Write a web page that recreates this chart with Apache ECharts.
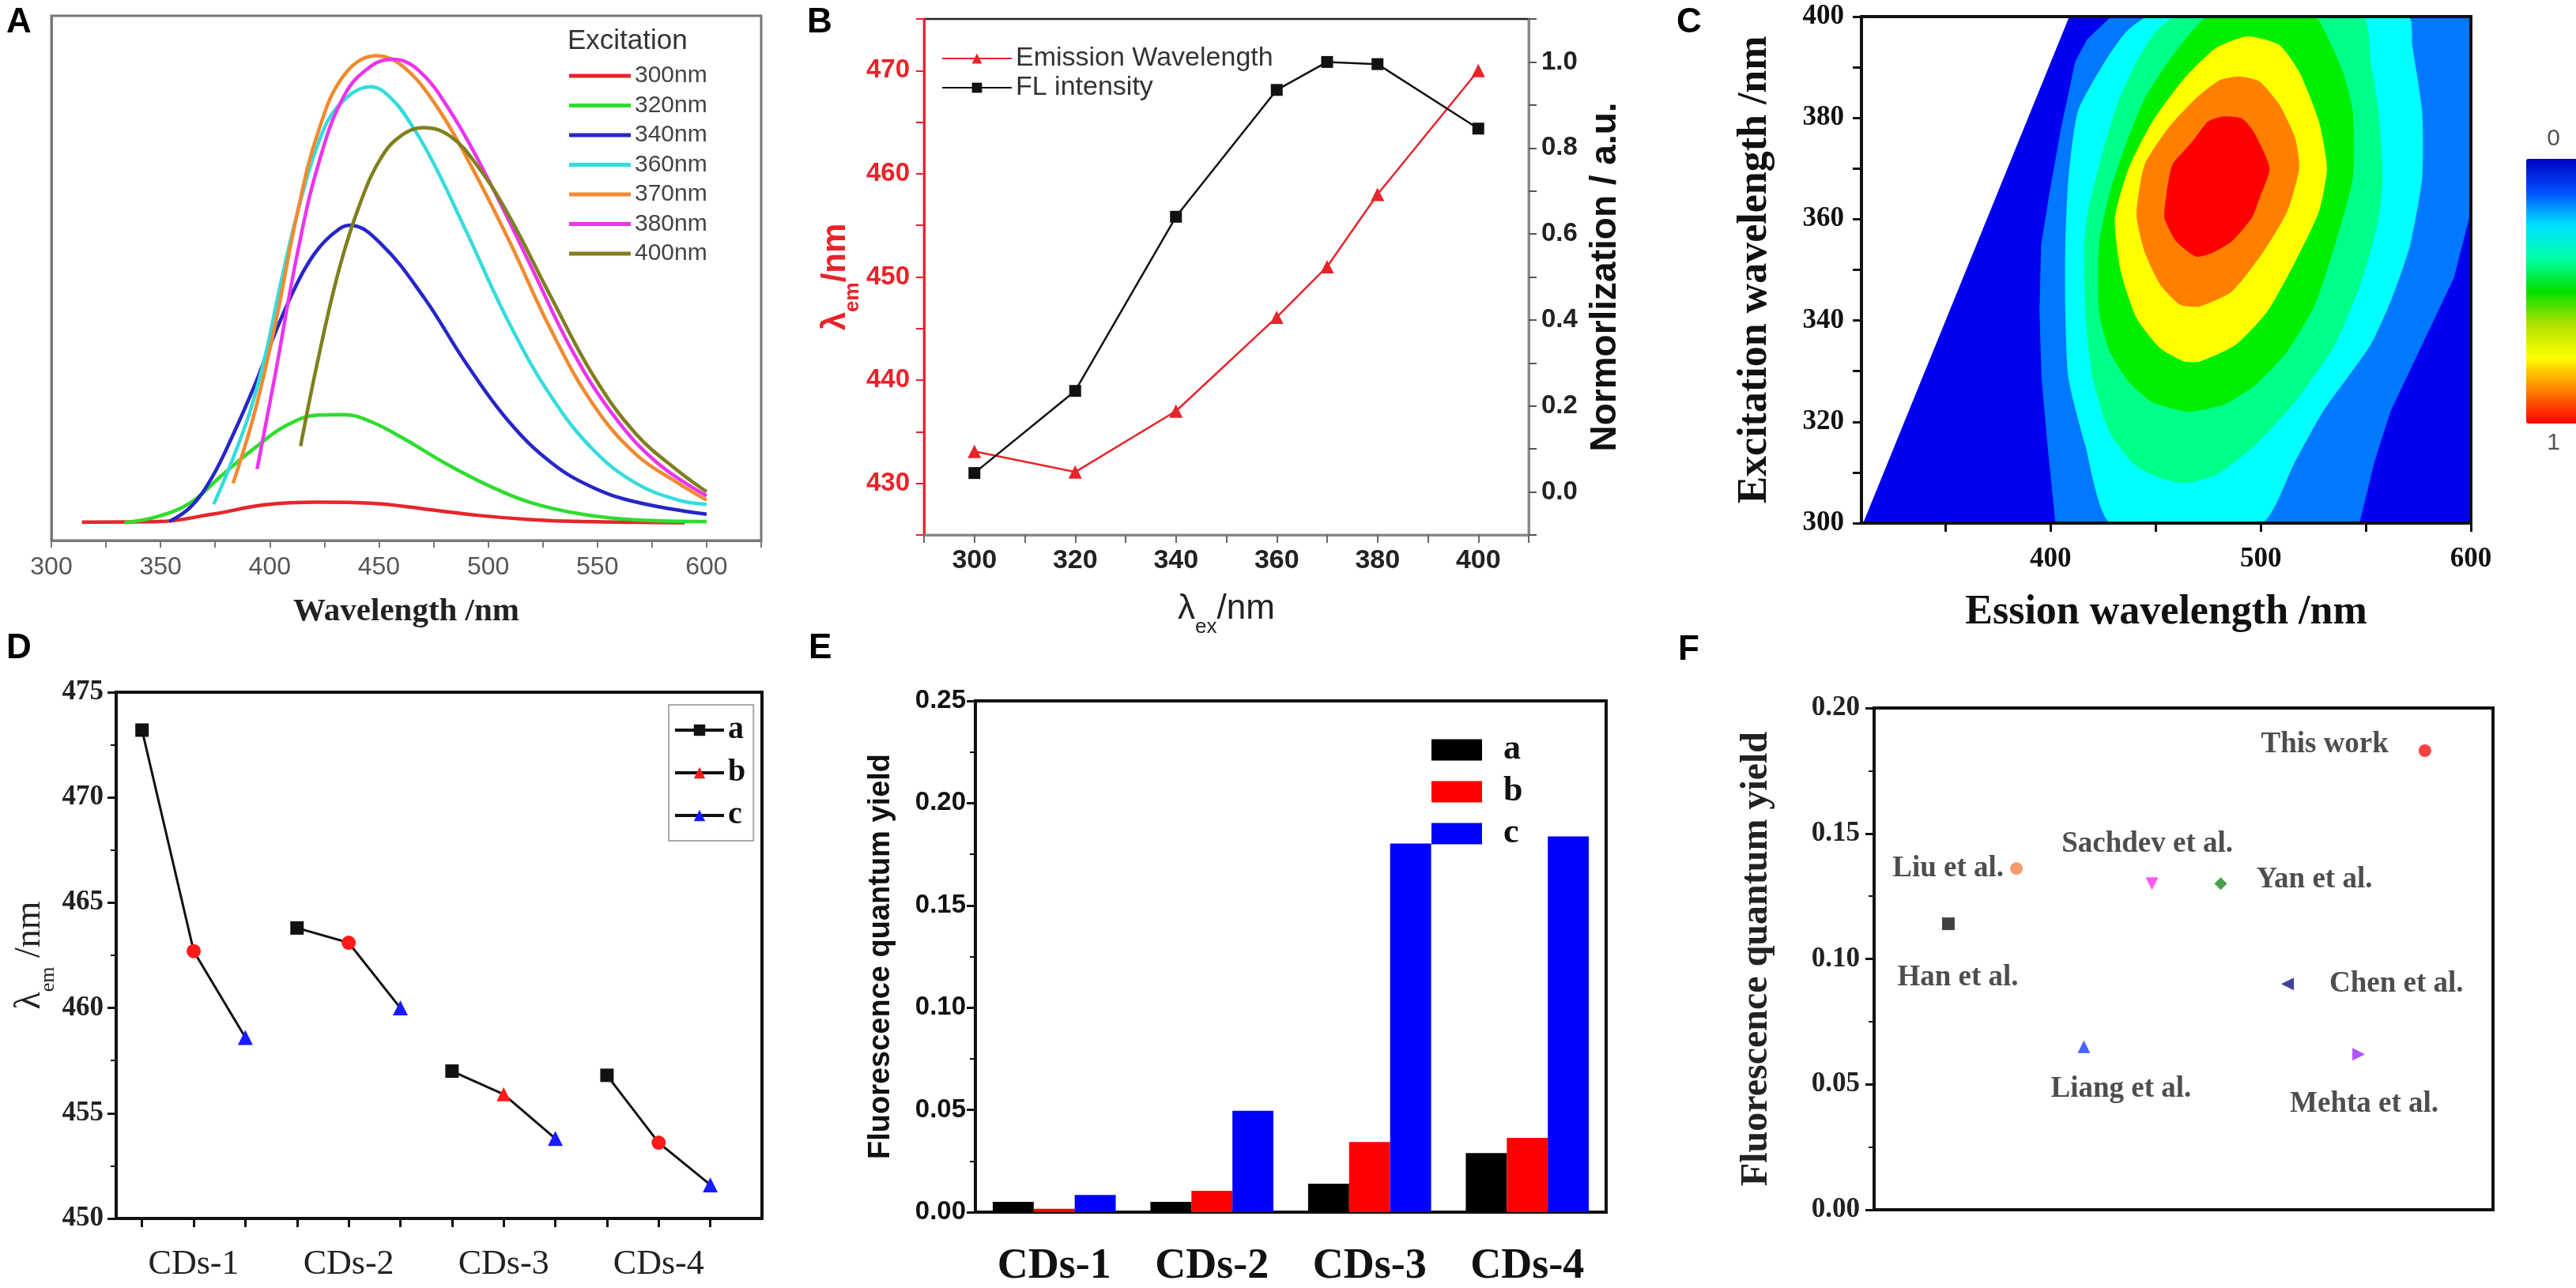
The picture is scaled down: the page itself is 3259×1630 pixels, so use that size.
<!DOCTYPE html>
<html><head><meta charset="utf-8">
<script src="https://cdn.jsdelivr.net/npm/echarts@6/dist/echarts.min.js"></script>
<style>html,body{margin:0;padding:0;background:#fff}#c{width:3259px;height:1630px}</style>
</head><body><div id="c"></div>
<script>
// ---------- Panel A: emission spectra [wavelength nm, intensity a.u.] ----------
const specNames = ['300nm','320nm','340nm','360nm','370nm','380nm','400nm'];
const spec300 = [[314,3.5],[349,3.6],[373.5,5.0],[398,6.8],[422,7.3],[446,7.1],[471,6.0],[495,4.8],[519,4.0],[543,3.6],[590,3.4]];
const spec320 = [[333.5,3.4],[349,4.6],[364,7.3],[378,12.4],[393,17.6],[407.5,21.9],[422,23.9],[434,24.0],[446,22.7],[461,19.5],[480,14.8],[500,10.5],[519,7.3],[543,5.0],[568,3.9],[600,3.6]];
const spec340 = [[354,3.6],[364,6.5],[373.5,12],[383,20],[393,29.5],[400,37],[407.5,44.5],[415,51],[422,55.5],[430,58.8],[436.6,60.1],[451,56.5],[470.6,46.3],[490,33.7],[509.4,22.7],[529,14.8],[548,10.1],[568,7.3],[600,5.0]];
const spec360 = [[374.3,6.9],[380.8,13.2],[390.5,24],[397.8,35],[405,49],[412.4,62],[422,75.5],[431.8,83],[446.3,86.5],[456,84.1],[465.8,78.6],[475.5,71.5],[490,58.9],[509.4,41.6],[528.9,27.4],[548.3,17.2],[567.7,10.9],[587.1,7.7],[600,6.9]];
const spec370 = [[383.2,10.9],[393,24.3],[402.7,41.6],[412.4,62],[422.1,77.8],[434.2,88.8],[448.8,92.4],[460.9,90.4],[475.5,83.3],[490,73.1],[509.4,57.3],[528.9,40],[548.3,25.8],[567.7,16.4],[587.1,10.9],[600,7.7]];
const spec380 = [[394.2,13.6],[402.7,32.1],[412.4,54.2],[422.1,71.5],[434.2,84.9],[446.3,90.4],[456.1,91.7],[468.2,89.6],[482.8,81.7],[499.7,69.1],[519.2,52.6],[538.6,36.1],[558,23.5],[577.4,14.8],[600,8.5]];
const spec400 = [[414.1,18],[422.1,34.5],[431.8,51.8],[441.5,64.4],[451.2,73.1],[460.9,77.4],[470.6,78.7],[482.8,77],[494.9,71.5],[509.4,62],[528.9,46.3],[548.3,31.3],[567.7,20.3],[587.1,13.2],[600,9.3]];
const specData = [spec300,spec320,spec340,spec360,spec370,spec380,spec400];
const specColors = ['#e5262b','#2fdc2f','#2626c8','#35dcdc','#f08a30','#ec34ec','#7f7f1e'];

// ---------- Panel B ----------
const exWave = [300,320,340,360,370,380,400];
const emWave = [433.1,431.1,437,446.1,451,458,470];
const flInt  = [0.044,0.235,0.64,0.935,1.0,0.995,0.845];

// ---------- Panel C: contour level boundaries [emission nm, excitation nm] ----------
const lvl1 = [[310.8,300],[408.9,400],[600,400],[600,300]];
const lvl2 = [[402.3,300],[398.5,315.5],[395.7,328.6],[394.7,341.8],[395.5,354.9],[399.4,365],[405,378],[411.7,391.1],[417.4,395.5],[428.7,400],[600,400],[600,361.5],[591.9,348.4],[576.8,335.2],[561.7,322],[554.2,312.2],[547,300]];
const lvl3 = [[428.7,300],[416.4,315.5],[408.5,328.6],[407,341.8],[407,354.9],[408.5,368.1],[413,381.3],[425.8,391.1],[436,397],[446.6,400],[570.2,400],[572.1,394.4],[576.8,381.3],[576.8,368.1],[571.1,354.9],[563,345],[552.3,335.2],[529.6,322],[516.4,312.2],[500.4,300]];
const lvl4 = [[459.8,400],[450,397],[441,391.1],[432,383],[424,372],[418,362],[416,354.9],[416.5,341.8],[420,328.6],[428,318],[440,311.5],[452.3,308.9],[464.5,307.9],[478.7,309.5],[497.5,315.5],[516.4,324],[535.3,335.2],[548.5,348.4],[556,360],[557.9,368.1],[556.1,381.3],[552.3,391.1],[548.5,400]];
const lvl5 = [[474.9,400],[465,396],[456,391.1],[445,384],[436,375],[428,365],[423,354.9],[423,341.8],[428,334],[437,328],[448,324],[465.5,322],[482.5,323.4],[497.5,327.3],[512.6,333.9],[525.8,343.1],[535.3,354.9],[543.8,368.1],[543.8,381.3],[539.1,389.1],[530.6,397],[525.8,400]];
const lvl6 = [[493.8,396.1],[508.9,394.4],[518.3,389.1],[527.7,379.3],[531.5,370.1],[527.7,361.5],[516.4,351.6],[503.2,341.8],[488.1,335.2],[471.1,331.9],[463.6,331.9],[452.3,334.5],[440.9,340.5],[433.4,349.7],[430.6,360.2],[437.2,370.1],[448.5,379.3],[463.6,387.8],[478.7,393.8]];
const lvl7 = [[490,388.2],[499.4,387.2],[508.9,382.6],[516.4,376],[518.3,370.1],[512.6,361.5],[501.3,353.6],[486.2,345.7],[471.1,342.8],[461.7,343.1],[452.3,347],[444.7,353.6],[440.9,360.9],[444.7,370.7],[456,378],[469.2,383.9],[480.6,387.5]];
const lvl8 = [[482.5,380.3],[490.9,379.9],[496.6,377.3],[504.2,370.1],[499.4,364.1],[495.7,360.2],[486.2,355.6],[476.8,353.3],[469.2,352.6],[459.8,355.6],[454.2,360.2],[455.1,364.8],[457.9,370.7],[467.4,375.3],[474.9,379.3]];
const contourLevels = [lvl1,lvl2,lvl3,lvl4,lvl5,lvl6,lvl7,lvl8];
const contourColors = ['#0000f0','#0078ff','#00ffff','#00ff88','#00ee00','#ffff00','#ff8000','#ff0000'];
const cbarColors = ['#0000c0','#0050ff','#00e0ff','#00ffaa','#00e000','#b0e000','#ffff00','#ff8000','#ff0000'];

// ---------- Panel D ----------
const groupNames = ['CDs-1','CDs-2','CDs-3','CDs-4'];
const emA = [473.2,463.8,457.0,456.8];
const emB = [462.7,463.1,455.9,453.6];
const emC = [458.6,460.0,453.8,451.6];

// ---------- Panel E ----------
const qyA = [0.005,0.005,0.0139,0.0289];
const qyB = [0.0016,0.0104,0.0343,0.0363];
const qyC = [0.0084,0.0496,0.1803,0.1837];

// ---------- Panel F ----------
const refNames = ['Han et al.','Liu et al.','Liang et al.','Sachdev et al.','Yan et al.','Chen et al.','Mehta et al.','This work'];
const refX = [1.2,2.3,3.39,4.49,5.6,6.68,7.83,8.9];
const refY = [0.114,0.136,0.065,0.130,0.130,0.090,0.062,0.183];

// ---------- styles ----------
const SANS = "'Liberation Sans', Arial, sans-serif";
const SERIF = "'Liberation Serif', 'Times New Roman', serif";
const RED = '#e8232a';
const refSymbols = ['rect','circle','triangle','triangle','diamond','triangle','triangle','circle'];
const refRotate = [0,0,0,180,0,90,-90,0];
const refColors = ['#111111','#f0834a','#1a3cff','#ff2af0','#1a8a1a','#10107a','#9a2aff','#ff1010'];
const refLabel = [
  {position:'bottom', distance:42, offset:[12,0]},
  {position:'left', distance:8, offset:[0,0]},
  {position:'bottom', distance:27, offset:[47,0]},
  {position:'top', distance:23, offset:[-6,0]},
  {position:'right', distance:37, offset:[0,-5]},
  {position:'right', distance:45, offset:[0,0]},
  {position:'bottom', distance:37, offset:[7,0]},
  {position:'left', distance:38, offset:[0,-8]}
];
const bMarkers = ['circle','circle','triangle','circle'];

const chart = echarts.init(document.getElementById('c'), null, {renderer:'canvas', width:3259, height:1630});

const blackAxisLine = {show:true, onZero:false, lineStyle:{color:'#111', width:4}};
const blackTick = {show:true, inside:false, length:11, lineStyle:{color:'#111', width:3}};
const minorT = {show:true, splitNumber:2, length:7, lineStyle:{color:'#111', width:2}};

const series = [];
// A
specNames.forEach((n,i)=>{
  series.push({name:n, type:'line', xAxisIndex:0, yAxisIndex:0, data:specData[i], smooth:0.4, symbol:'none',
    lineStyle:{color:specColors[i], width:4.5}, itemStyle:{color:specColors[i]}, clip:true});
});
// B
series.push({name:'Emission Wavelength', type:'line', xAxisIndex:1, yAxisIndex:1,
  data: exWave.map((x,i)=>[x,emWave[i]]), symbol:'triangle', symbolSize:17,
  lineStyle:{color:RED, width:2.5}, itemStyle:{color:RED}});
series.push({name:'FL intensity', type:'line', xAxisIndex:1, yAxisIndex:2,
  data: exWave.map((x,i)=>[x,flInt[i]]), symbol:'rect', symbolSize:15,
  lineStyle:{color:'#111', width:2.5}, itemStyle:{color:'#111'}});
// C
contourLevels.forEach((pts,i)=>{
  series.push({type:'custom', xAxisIndex:2, yAxisIndex:3, data:pts, clip:true, silent:true,
    encode:{x:0,y:1},
    renderItem:(params, api)=>{
      if (params.dataIndex !== 0) return null;
      return {type:'polygon', shape:{points: pts.map(p=>api.coord(p)), smooth: i<2?0:0.2},
        style:{fill:contourColors[i]}};
    }});
});
const dummyIdx = series.length;
series.push({type:'scatter', xAxisIndex:2, yAxisIndex:3, data:[], silent:true});
// D connectors
groupNames.forEach((g,gi)=>{
  series.push({type:'line', xAxisIndex:3, yAxisIndex:4, symbol:'none', silent:true,
    data:[[3*gi,emA[gi]],[3*gi+1,emB[gi]],[3*gi+2,emC[gi]]],
    lineStyle:{color:'#111', width:3}});
});
series.push({name:'a', type:'line', xAxisIndex:3, yAxisIndex:4, data:emA.map((v,gi)=>[3*gi,v]),
  symbol:'rect', symbolSize:17, lineStyle:{color:'#000', opacity:0}, itemStyle:{color:'#111'}, z:5});
series.push({name:'b', type:'line', xAxisIndex:3, yAxisIndex:4,
  data:emB.map((v,gi)=>({value:[3*gi+1,v], symbol:bMarkers[gi]})),
  symbol:'triangle', symbolSize:18, lineStyle:{color:'#000', opacity:0}, itemStyle:{color:'#ff1a1a'}, z:5});
series.push({name:'c', type:'line', xAxisIndex:3, yAxisIndex:4, data:emC.map((v,gi)=>[3*gi+2,v]),
  symbol:'triangle', symbolSize:19, lineStyle:{color:'#000', opacity:0}, itemStyle:{color:'#1a1aff'}, z:5});
// E
[['E-a',qyA,'#000000'],['E-b',qyB,'#ff0000'],['E-c',qyC,'#0000ff']].forEach(([n,d,c])=>{
  series.push({name:n, type:'bar', xAxisIndex:4, yAxisIndex:5, data:d, itemStyle:{color:c},
    barGap:'0%', barCategoryGap:'22%'});
});
// F
series.push({type:'scatter', xAxisIndex:5, yAxisIndex:6,
  data: refNames.map((n,i)=>({name:n, value:[refX[i],refY[i]], symbol:refSymbols[i], symbolRotate:refRotate[i],
    itemStyle:{color:refColors[i]},
    label:Object.assign({show:true, formatter:n, fontFamily:SERIF, fontWeight:'bold', fontSize:37, color:'#222'}, refLabel[i])})),
  symbolSize:16});

const option = {
  backgroundColor:'#ffffff',
  animation:false,
  title:[
    {text:'A', left:3, top:2, textStyle:{fontFamily:SANS, fontWeight:'bold', fontSize:44, color:'#000'}},
    {text:'B', left:1016, top:2, textStyle:{fontFamily:SANS, fontWeight:'bold', fontSize:44, color:'#000'}},
    {text:'C', left:2116, top:2, textStyle:{fontFamily:SANS, fontWeight:'bold', fontSize:44, color:'#000'}},
    {text:'D', left:3, top:794, textStyle:{fontFamily:SANS, fontWeight:'bold', fontSize:44, color:'#000'}},
    {text:'E', left:1018, top:794, textStyle:{fontFamily:SANS, fontWeight:'bold', fontSize:44, color:'#000'}},
    {text:'F', left:2118, top:796, textStyle:{fontFamily:SANS, fontWeight:'bold', fontSize:44, color:'#000'}},
    {text:'Excitation', left:713, top:30, textStyle:{fontFamily:SANS, fontWeight:'normal', fontSize:35, color:'#333'}}
  ],
  legend:[
    {data:specNames, left:715, top:76, orient:'vertical', icon:'rect', itemWidth:78, itemHeight:5, itemGap:7.5,
      textStyle:{fontFamily:SANS, fontSize:30, color:'#444', lineHeight:30}},
    {data:['Emission Wavelength','FL intensity'], left:1186, top:52, orient:'vertical', itemWidth:88, itemHeight:16, itemGap:3,
      textStyle:{fontFamily:SANS, fontSize:34, color:'#333', lineHeight:31}},
    {data:['a','b','c'], left:846, top:892, orient:'vertical', itemWidth:62, itemHeight:18, itemGap:14,
      borderColor:'#aaa', borderWidth:2, padding:[12,10,12,6],
      lineStyle:{color:'#111', width:4, opacity:1},
      textStyle:{fontFamily:SERIF, fontWeight:'bold', fontSize:40, color:'#111', lineHeight:36}},
    {data:['E-a','E-b','E-c'], formatter:(n)=>n.slice(2), left:1806, top:922, orient:'vertical', icon:'rect',
      itemWidth:64, itemHeight:27, itemGap:9,
      textStyle:{fontFamily:SERIF, fontWeight:'bold', fontSize:44, color:'#111', lineHeight:28, padding:[0,0,0,22]}}
  ],
  visualMap:{type:'continuous', min:0, max:1, seriesIndex:[dummyIdx], inverse:true, orient:'vertical',
    left:3181, top:146, itemWidth:69, itemHeight:335, text:['1','0'], textGap:10, calculable:false,
    textStyle:{color:'#555', fontSize:30, fontFamily:SANS}, inRange:{color:cbarColors}},
  grid:[
    {left:65, top:20, width:898, height:664, show:true, borderColor:'#777', borderWidth:3},
    {left:1169, top:24, width:765, height:653, show:true, borderColor:'#222', borderWidth:2.5},
    {left:2355, top:21, width:771, height:641, show:true, borderColor:'#111', borderWidth:4},
    {left:147, top:876, width:817, height:666, show:true, borderColor:'#111', borderWidth:4},
    {left:1234, top:887, width:798, height:648, show:true, borderColor:'#111', borderWidth:4},
    {left:2371, top:896, width:783, height:635, show:true, borderColor:'#111', borderWidth:4}
  ],
  xAxis:[
    {gridIndex:0, type:'value', min:300, max:625, interval:25, splitLine:{show:false},
      axisLine:{show:true, onZero:false, lineStyle:{color:'#777', width:3}}, axisTick:{length:9, lineStyle:{color:'#777', width:2}},
      axisLabel:{formatter:(v)=> v%50===0 ? String(v) : '', color:'#555', fontSize:32, fontFamily:SANS, margin:18},
      name:'Wavelength /nm', nameLocation:'middle', nameGap:70,
      nameTextStyle:{fontFamily:SERIF, fontWeight:'bold', fontSize:41, color:'#222'}},
    {gridIndex:1, type:'value', min:290, max:410, interval:10, splitLine:{show:false},
      axisLine:{show:true, onZero:false, lineStyle:{color:'#888', width:3}}, axisTick:{length:10, lineStyle:{color:'#666', width:2}},
      axisLabel:{formatter:(v)=> (v>=300 && v<=400 && (v-300)%20===0) ? String(v) : '', color:'#222', fontWeight:'bold', fontSize:34, fontFamily:SANS, margin:16},
      name:'{l|λ}{s|ex}{l|/nm}', nameLocation:'middle', nameGap:72,
      nameTextStyle:{rich:{l:{fontFamily:SANS, fontSize:44, color:'#222'}, s:{fontFamily:SANS, fontSize:26, color:'#222', verticalAlign:'bottom', padding:[0,0,-14,0]}}}},
    {gridIndex:2, type:'value', min:310, max:600, splitLine:{show:false}, z:10,
      axisLine:blackAxisLine, axisTick:Object.assign({customValues:[350,400,450,500,550,600]}, blackTick),
      axisLabel:{customValues:[400,500,600], color:'#111', fontWeight:'bold', fontSize:35, fontFamily:SERIF, margin:28},
      name:'Ession wavelength /nm', nameLocation:'middle', nameGap:88,
      nameTextStyle:{fontFamily:SERIF, fontWeight:'bold', fontSize:52, color:'#111'}},
    {gridIndex:3, type:'value', min:-0.5, max:12, splitLine:{show:false},
      axisLine:blackAxisLine, axisTick:Object.assign({customValues:[0,1,2,3,4,5,6,7,8,9,10,11]}, blackTick),
      axisLabel:{customValues:[1,4,7,10], formatter:(v)=>groupNames[Math.round((v-1)/3)], color:'#222', fontSize:44, fontFamily:SERIF, margin:36}},
    {gridIndex:4, type:'category', data:groupNames, axisLine:blackAxisLine, axisTick:{show:false},
      axisLabel:{color:'#111', fontWeight:'bold', fontSize:54, fontFamily:SERIF, margin:42}},
    {gridIndex:5, type:'value', min:0, max:10, splitLine:{show:false}, axisLine:blackAxisLine,
      axisTick:{show:false}, axisLabel:{show:false}},
    {gridIndex:2, type:'value', position:'top', min:310, max:600, z:10, splitLine:{show:false},
      axisLine:blackAxisLine, axisTick:{show:false}, axisLabel:{show:false}}
  ],
  yAxis:[
    {gridIndex:0, type:'value', min:0, max:100, splitLine:{show:false},
      axisLine:{show:true, onZero:false, lineStyle:{color:'#777', width:3}}, axisTick:{show:false}, axisLabel:{show:false}},
    {gridIndex:1, type:'value', position:'left', min:425, max:475, interval:5, splitLine:{show:false},
      axisLine:{show:true, onZero:false, lineStyle:{color:RED, width:3}}, axisTick:{length:10, lineStyle:{color:RED, width:2}},
      axisLabel:{formatter:(v)=> v%10===0 ? String(v) : '', color:RED, fontWeight:'bold', fontSize:33, fontFamily:SANS, margin:18},
      name:'{l|λ}{s|em}{l|/nm}', nameLocation:'middle', nameGap:50,
      nameTextStyle:{rich:{l:{fontFamily:SANS, fontSize:42, fontWeight:'bold', color:RED}, s:{fontFamily:SANS, fontSize:26, fontWeight:'bold', color:RED, verticalAlign:'bottom', padding:[0,0,-14,0]}}}},
    {gridIndex:1, type:'value', position:'right', min:-0.1, max:1.1, interval:0.1, splitLine:{show:false},
      axisLine:{show:true, onZero:false, lineStyle:{color:'#888', width:3}}, axisTick:{length:10, lineStyle:{color:'#555', width:2}},
      axisLabel:{formatter:(v)=>{const k=Math.round(v*10); return (k>=0 && k<=10 && k%2===0) ? (k/10).toFixed(1) : '';}, color:'#222', fontWeight:'bold', fontSize:33, fontFamily:SANS, margin:16},
      name:'Normorlization / a.u.', nameLocation:'middle', nameGap:74,
      nameTextStyle:{fontFamily:SANS, fontWeight:'bold', fontSize:46, color:'#111'}},
    {gridIndex:2, type:'value', min:300, max:400, interval:10, splitLine:{show:false}, z:10,
      axisLine:blackAxisLine, axisTick:blackTick,
      axisLabel:{formatter:(v)=> v%20===0 ? String(v) : '', color:'#111', fontWeight:'bold', fontSize:35, fontFamily:SERIF, margin:22},
      name:'Excitation wavelength /nm', nameLocation:'middle', nameGap:108,
      nameTextStyle:{fontFamily:SERIF, fontWeight:'bold', fontSize:52, color:'#111'}},
    {gridIndex:3, type:'value', min:450, max:475, interval:5, splitLine:{show:false},
      axisLine:blackAxisLine, axisTick:blackTick, minorTick:minorT,
      axisLabel:{color:'#222', fontWeight:'bold', fontSize:35, fontFamily:SERIF, margin:16},
      name:'{l|λ}{s|em}{l| /nm}', nameLocation:'middle', nameGap:86,
      nameTextStyle:{rich:{l:{fontFamily:SERIF, fontSize:46, color:'#222'}, s:{fontFamily:SERIF, fontSize:26, color:'#222', verticalAlign:'bottom', padding:[0,0,-14,0]}}}},
    {gridIndex:4, type:'value', min:0, max:0.25, interval:0.05, splitLine:{show:false},
      axisLine:blackAxisLine, axisTick:blackTick, minorTick:minorT,
      axisLabel:{formatter:(v)=>v.toFixed(2), color:'#111', fontWeight:'bold', fontSize:33, fontFamily:SANS, margin:12},
      name:'Fluorescence quantum yield', nameLocation:'middle', nameGap:100,
      nameTextStyle:{fontFamily:SANS, fontWeight:'bold', fontSize:38, color:'#111'}},
    {gridIndex:5, type:'value', min:0, max:0.2, interval:0.05, splitLine:{show:false},
      axisLine:blackAxisLine, axisTick:blackTick, minorTick:minorT,
      axisLabel:{formatter:(v)=>v.toFixed(2), color:'#222', fontWeight:'bold', fontSize:35, fontFamily:SERIF, margin:18},
      name:'Fluorescence quantum yield', nameLocation:'middle', nameGap:124,
      nameTextStyle:{fontFamily:SERIF, fontWeight:'bold', fontSize:48, color:'#222'}},
    {gridIndex:2, type:'value', position:'right', min:300, max:400, z:10, splitLine:{show:false},
      axisLine:blackAxisLine, axisTick:{show:false}, axisLabel:{show:false}}
  ],
  series: series
};
chart.setOption(option);
</script>
</body></html>
